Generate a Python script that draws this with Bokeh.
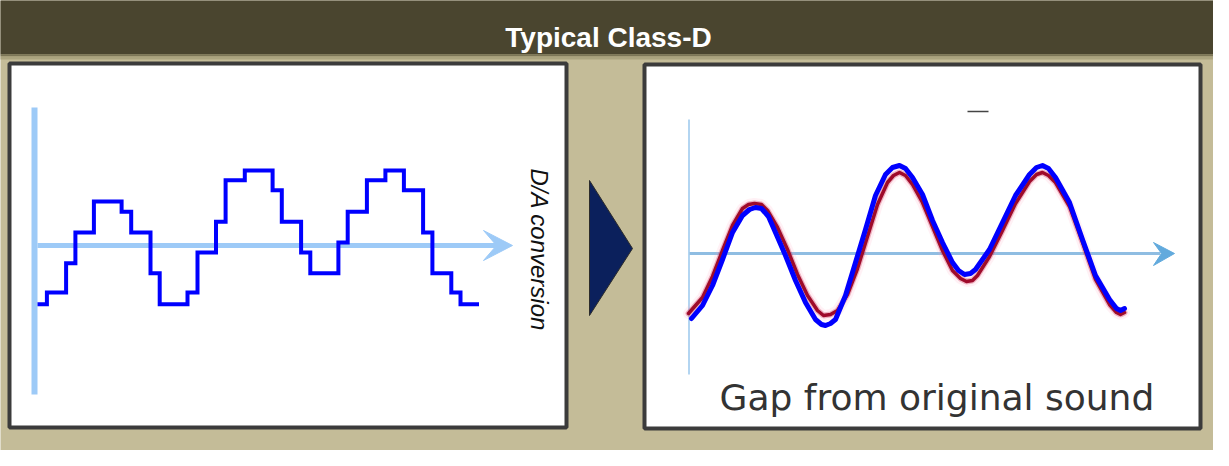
import math
from bokeh.plotting import figure
from bokeh.models import Range1d, Label
from bokeh.embed import file_html
from bokeh.resources import INLINE

# ---- data (pixel-aligned diagram coordinates) ----
title_text = "Typical Class-D"
conv_text = "D/A conversion"
gap_text = "Gap from original sound"

# staircase (D/A input): segment edges along time and the held level of each segment
step_edges = [45, 54.4, 73.6, 82.9, 101.4, 129.1, 138.7, 158.0, 167.2, 195.0, 205.0,
              223.5, 233.1, 252.3, 280.1, 289.3, 308.6, 317.8, 345.9, 355.2, 374.4,
              392.9, 411.4, 430.6, 439.9, 458.8, 468.0, 486.5]
step_levels = [311.7, 300, 270.7, 240, 209, 219.3, 240, 280.7, 311.7, 300, 260,
               229.3, 187.7, 178, 197.7, 229.3, 260, 280.7, 250, 219.3, 187.7,
               178, 197.7, 240, 280.7, 300, 311.7]

# reconstructed output (blue) and original sound (red)
blue_x = [699, 710, 720, 730, 740, 750, 757, 763, 769, 776, 783, 793, 803, 813, 823, 829,
          833, 838, 843, 853, 863, 873, 883, 893, 900, 907, 913, 920, 930, 940, 950, 960,
          966, 972, 978, 983, 997, 1010, 1023, 1037, 1044, 1050, 1056, 1063, 1077, 1090,
          1103, 1117, 1124, 1128, 1132]
blue_y = [326, 313, 293, 267, 240, 223, 217, 215, 216, 224, 240, 263, 288, 310, 327, 332,
          333, 331, 327, 303, 270, 237, 203, 182, 175, 173, 176, 185, 202, 228, 250, 270,
          278, 282, 281, 277, 257, 230, 203, 182, 175, 173, 176, 185, 210, 247, 283, 307,
          316, 318, 316]
red_x = [696, 710, 720, 730, 740, 750, 756, 762, 769, 775, 785, 795, 805, 815, 825, 831,
         838, 845, 855, 865, 875, 885, 895, 901, 907, 913, 920, 930, 940, 950, 960, 968,
         974, 980, 985, 997, 1010, 1023, 1037, 1044, 1050, 1056, 1063, 1077, 1090, 1103,
         1117, 1124, 1128, 1132]
red_y = [321, 305, 284, 258, 233, 216, 212, 211, 212, 218, 235, 257, 282, 303, 318, 323,
         322, 318, 302, 276, 244, 212, 190, 183, 180, 183, 192, 210, 234, 258, 278, 286,
         289, 288, 283, 264, 238, 211, 189, 182, 180, 183, 190, 214, 250, 287, 312, 320,
         322, 320]

# ---- figure: data space aligned to the reference picture's pixels ----
p = figure(width=1213, height=450, x_range=Range1d(8, 1221), y_range=Range1d(458, 8),
           output_backend="svg", toolbar_location=None, min_border=0,
           x_axis_type=None, y_axis_type=None)
p.grid.visible = False
p.outline_line_color = None
p.background_fill_color = "#c4bc98"
p.border_fill_color = "#c4bc98"

# header band with soft shadow
p.quad(left=[0], right=[1229], top=[0], bottom=[6], fill_color="#b39e62", line_color=None)
p.quad(left=[0], right=[1229], top=[6], bottom=[62], fill_color="#4a452f", line_color=None)
p.quad(left=[0], right=[1229], top=[62], bottom=[64], fill_color="#7c7657", line_color=None)
p.quad(left=[0], right=[1229], top=[64], bottom=[67], fill_color="#aba47f", line_color=None)
p.quad(left=[0], right=[1229], top=[458], bottom=[466], fill_color="#0a0a0a", line_color=None)
p.quad(left=[1225], right=[1229], top=[62], bottom=[466], fill_color="#0a0a0a", line_color=None)

p.add_layout(Label(x=616, y=45, text=title_text, text_align="center",
                   text_baseline="alphabetic", text_color="white",
                   text_font="Liberation Sans", text_font_style="bold",
                   text_font_size="28px"))

# panels
p.quad(left=[17, 652], right=[574, 1208], top=[71, 72], bottom=[435, 436],
       fill_color="white", line_color="#3b3b3b", line_width=4)

# left panel: axes
axis_blue = "#9dcaf7"
p.line([42, 42], [115, 402], line_color=axis_blue, line_width=6)
p.line([45, 506], [253, 253], line_color=axis_blue, line_width=5)
p.patch([520, 491, 504, 491], [253, 238, 253, 268], fill_color=axis_blue, line_color=axis_blue)

# staircase
sx, sy = [], []
for i, lv in enumerate(step_levels):
    sx += [step_edges[i], step_edges[i + 1]]
    sy += [lv, lv]
p.line(sx, sy, line_color="#0000ff", line_width=4, line_join="miter")

p.add_layout(Label(x=547, y=176, text=conv_text, angle=-math.pi / 2, text_align="left",
                   text_baseline="alphabetic", text_color="#111111",
                   text_font="Liberation Sans", text_font_style="italic",
                   text_font_size="24px"))

# arrow between panels
p.patch([597, 597, 640], [188, 323, 256], fill_color="#0b205c", line_color="#2b2b2b",
        line_width=1)

# right panel: axes
p.line([696.5, 696.5], [127, 382], line_color="#b3d5f1", line_width=2)
p.line([697, 1168], [261, 261], line_color="#8fbde2", line_width=3)
p.patch([1182, 1161, 1169, 1161], [261, 250, 261, 273], fill_color="#62aadd",
        line_color="#62aadd")
p.line([975, 996], [119, 119], line_color="#444444", line_width=1.5)

# red original (blurred) and blue output
p.line(red_x, red_y, line_color="#ffa0bb", line_width=11, line_alpha=0.15, line_cap="round")
p.line(red_x, red_y, line_color="#c8204a", line_width=6, line_alpha=0.3, line_cap="round")
p.line(red_x, red_y, line_color="#9e0a2a", line_width=3.5, line_cap="round", line_join="round")
p.line(blue_x, blue_y, line_color="#0000ff", line_width=5, line_cap="round", line_join="round")

p.add_layout(Label(x=727, y=405, text=gap_text, text_align="left",
                   text_baseline="alphabetic", text_color="#333333",
                   text_font="DejaVu Sans", text_font_size="36px"))

open("out.html", "w").write(file_html(p, INLINE))
